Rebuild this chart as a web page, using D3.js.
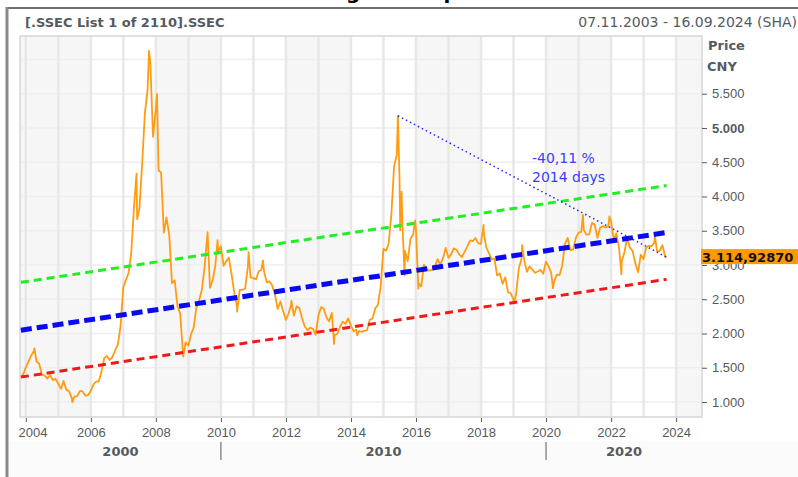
<!DOCTYPE html>
<html>
<head>
<meta charset="utf-8">
<script src="https://cdn.jsdelivr.net/npm/d3@7"></script>
<style>
  html, body { margin: 0; padding: 0; background: #fff; }
  svg { display: block; font-family: "DejaVu Sans", Verdana, sans-serif; }
</style>
</head>
<body>
<svg id="chart" width="798" height="477"></svg>
<script>
"use strict";

// SSEC monthly closes, first value is Nov 2003
var first_month = [2003, 10];
var monthly_close = [
  1397, 1497,
  1590, 1675, 1742, 1595, 1555, 1400, 1386, 1342, 1396, 1320, 1340, 1266,
  1191, 1306, 1181, 1159, 1060, 1080, 1083, 1162, 1155, 1092, 1099, 1161,
  1258, 1299, 1298, 1440, 1641, 1672, 1612, 1658, 1752, 1837, 2099, 2675,
  2786, 2881, 3183, 3841, 4109, 3820, 4471, 5218, 5552, 5954, 4871, 5261,
  4383, 4348, 3472, 3693, 3433, 2736, 2775, 2397, 2293, 1729, 1871, 1821,
  1991, 2082, 2373, 2477, 2632, 2959, 3412, 2667, 2779, 2996, 3195, 3277,
  2989, 3051, 3109, 2870, 2592, 2398, 2637, 2638, 2655, 2979, 2820, 2808,
  2791, 2905, 2928, 2911, 2743, 2762, 2701, 2567, 2359, 2468, 2333, 2199,
  2292, 2428, 2262, 2396, 2372, 2225, 2103, 2047, 2086, 2068, 1980, 2269,
  2385, 2365, 2236, 2177, 2300, 1979, 1993, 2098, 2174, 2141, 2220, 2116,
  2033, 2056, 2033, 2026, 2039, 2048, 2201, 2217, 2364, 2420, 2683, 3235,
  3210, 3310, 3748, 4442, 4612, 4277, 3664, 3206, 3053, 3383, 3445, 3539,
  2738, 2688, 3004, 2938, 2917, 2930, 2979, 3085, 3005, 3100, 3250, 3104,
  3159, 3242, 3223, 3155, 3117, 3192, 3273, 3360, 3349, 3393, 3317, 3307,
  3481, 3259, 3169, 3082, 3095, 2847, 2876, 2725, 2821, 2603, 2588, 2494,
  2585, 2941, 3091, 3078, 2899, 2979, 2933, 2886, 2905, 2929, 2871, 3050,
  2977, 2880, 2750, 2860, 2852, 2985, 3310, 3396, 3218, 3225, 3392, 3473,
  3483, 3509, 3442, 3447, 3615, 3591, 3397, 3544, 3568, 3547, 3564, 3640,
  3361, 3462, 3252, 3047, 3186, 3399, 3253, 3202, 3024, 2893, 3151, 3089,
  3255, 3280, 3273, 3323, 3205, 3202, 3291, 3120
];

// intra-month highs and lows visible in the picture
var swing_dates = [
  "2003-11-07", "2004-04-07", "2005-06-06", "2007-05-29", "2007-06-05",
  "2007-10-16", "2008-01-14", "2008-11-04", "2009-08-04", "2009-11-24",
  "2010-07-02", "2010-11-08", "2011-04-18", "2012-03-02", "2013-06-25",
  "2014-03-12", "2015-06-12", "2015-07-08", "2015-07-24", "2015-08-26",
  "2015-12-23", "2016-01-28", "2018-01-29", "2019-01-04", "2019-04-08",
  "2020-03-19", "2021-02-18", "2021-12-13", "2022-04-27", "2023-05-09",
  "2023-09-16"
];
var swing_values = [
  1370, 1783, 998, 4335, 3670,
  6124, 5497, 1664, 3478, 3361,
  2320, 3186, 3067, 2478, 1849,
  1974, 5178, 3507, 4070, 2850,
  3651, 2655, 3587, 2440, 3288,
  2660, 3731, 3708, 2863, 3418,
  3114.9287
];

// regression channel, end points
var channel_dates = ["2003-11-07", "2023-09-16"];
var channel_upper = [2747, 4160];
var channel_mid = [2048, 3474];
var channel_lower = [1364, 2790];

var year_ticks = [2004, 2006, 2008, 2010, 2012, 2014, 2016, 2018, 2020, 2022, 2024];
var decades = [2000, 2010, 2020];
var price_ticks = [1000, 1500, 2000, 2500, 3000, 3500, 4000, 4500, 5000, 5500];
var grid_prices = [1000, 1500, 2000, 2500, 3000, 3500, 4000, 4500, 5000, 5500, 6000];

var drawdown_text = ["-40,11 %", "2014 days"];
var peak_date = "2015-06-12";
var last_date = "2023-09-16";
var last_price = 3114.9287;

var chart_title = "SSEC Long-term uptrend";
var list_title = "[.SSEC List 1 of 2110].SSEC";
var range_title = "07.11.2003 - 16.09.2024 (SHA)";

var plot = {left: 20, top: 36, right: 702, bottom: 417};
var text_gray = "#555a60";

var parse_day = d3.timeParse("%Y-%m-%d");
var de_locale = d3.formatLocale({decimal: ",", thousands: ".", grouping: [3], currency: ["", ""]});
var fmt_price = de_locale.format(",.0f");
var fmt_last = de_locale.format(",.5f");

var svg = d3.select("#chart");

var x = d3.scaleTime()
    .domain([new Date(2003, 9, 28), new Date(2024, 9, 18)])
    .range([plot.left, plot.right]);
var y = d3.scaleLinear()
    .domain([781, 6343])
    .range([plot.bottom, plot.top]);

// build the price series
var price_data = monthly_close.map(function(v, i) {
    return {date: new Date(first_month[0], first_month[1] + i + 1, 0), value: v};
});
swing_dates.forEach(function(d, i) {
    price_data.push({date: parse_day(d), value: swing_values[i]});
});
price_data.sort(function(a, b) { return a.date - b.date; });

// frame
svg.append("rect").attr("width", 798).attr("height", 477).attr("fill", "#fff");
svg.append("rect").attr("x", 8).attr("y", 441).attr("width", 790).attr("height", 36).attr("fill", "#fbfbfb");
svg.append("line").attr("x1", 6).attr("x2", 798).attr("y1", 8).attr("y2", 8)
    .attr("stroke", "#707070").attr("stroke-width", 2);
svg.append("line").attr("x1", 7).attr("x2", 7).attr("y1", 7).attr("y2", 477)
    .attr("stroke", "#8a8a8a").attr("stroke-width", 3);

// cut off headline, only the descenders show
svg.append("text").attr("x", 242).attr("y", -1)
    .attr("font-size", 20).attr("font-weight", "bold").attr("fill", "#000")
    .text(chart_title);

svg.append("text").attr("x", 25).attr("y", 27)
    .attr("font-size", 13).attr("font-weight", "bold").attr("fill", text_gray)
    .text(list_title);
svg.append("text").attr("x", 797).attr("y", 27).attr("text-anchor", "end")
    .attr("font-size", 14).attr("fill", text_gray)
    .text(range_title);

// plot background: 2-year bands and grid
var plot_g = svg.append("g");
plot_g.append("rect")
    .attr("x", plot.left).attr("y", plot.top)
    .attr("width", plot.right - plot.left).attr("height", plot.bottom - plot.top)
    .attr("fill", "#fff");
d3.range(2004, 2025, 4).forEach(function(yr, i) {
    var x0 = i === 0 ? plot.left : x(new Date(yr, 0, 1));
    var x1 = Math.min(x(new Date(yr + 2, 0, 1)), plot.right);
    plot_g.append("rect")
        .attr("x", x0).attr("y", plot.top)
        .attr("width", x1 - x0).attr("height", plot.bottom - plot.top)
        .attr("fill", "#f6f6f6");
});
plot_g.selectAll(".hgrid").data(grid_prices).enter().append("line")
    .attr("x1", plot.left).attr("x2", plot.right)
    .attr("y1", function(d) { return y(d); }).attr("y2", function(d) { return y(d); })
    .attr("stroke", "#eeeeee").attr("stroke-width", 1.5);
plot_g.selectAll(".vgrid").data(d3.range(2004, 2025)).enter().append("line")
    .attr("x1", function(d) { return x(new Date(d, 0, 1)); })
    .attr("x2", function(d) { return x(new Date(d, 0, 1)); })
    .attr("y1", plot.top).attr("y2", plot.bottom)
    .attr("stroke", "#e8e8e8").attr("stroke-width", 2.5);
plot_g.append("rect")
    .attr("x", plot.left).attr("y", plot.top)
    .attr("width", plot.right - plot.left).attr("height", plot.bottom - plot.top)
    .attr("fill", "none").attr("stroke", "#d6d6d6").attr("stroke-width", 1.5);

// price line
var line = d3.line()
    .x(function(d) { return x(d.date); })
    .y(function(d) { return y(d.value); });
svg.append("path").datum(price_data)
    .attr("d", line)
    .attr("fill", "none").attr("stroke", "#ff9c12").attr("stroke-width", 1.8)
    .attr("stroke-linejoin", "round");

// regression channel
var channel_line = d3.line()
    .x(function(d) { return x(d[0]); })
    .y(function(d) { return y(d[1]); });
function channel_points(values) {
    return channel_dates.map(function(d, i) { return [parse_day(d), values[i]]; });
}
svg.append("path").datum(channel_points(channel_upper)).attr("d", channel_line)
    .attr("fill", "none").attr("stroke", "#22ee22").attr("stroke-width", 3)
    .attr("stroke-dasharray", "8,5");
svg.append("path").datum(channel_points(channel_lower)).attr("d", channel_line)
    .attr("fill", "none").attr("stroke", "#f01818").attr("stroke-width", 3)
    .attr("stroke-dasharray", "8,5");
svg.append("path").datum(channel_points(channel_mid)).attr("d", channel_line)
    .attr("fill", "none").attr("stroke", "#0a0af0").attr("stroke-width", 5)
    .attr("stroke-dasharray", "11,5");

// drawdown from the 2015 peak
var peak_value = swing_values[swing_dates.indexOf(peak_date)];
svg.append("line")
    .attr("x1", x(parse_day(peak_date))).attr("y1", y(peak_value))
    .attr("x2", x(parse_day(last_date))).attr("y2", y(last_price))
    .attr("stroke", "#2424ff").attr("stroke-width", 1.5)
    .attr("stroke-dasharray", "1.5,3");
svg.selectAll(".dd").data(drawdown_text).enter().append("text")
    .attr("x", 532).attr("y", function(d, i) { return 163 + i * 18.5; })
    .attr("font-size", 14).attr("fill", "#3c3cff")
    .text(function(d) { return d; });

// axes
var y_axis = d3.axisRight(y).tickValues(price_ticks).tickSize(5).tickPadding(5)
    .tickFormat(fmt_price);
var y_g = svg.append("g").attr("transform", "translate(" + plot.right + ",0)").call(y_axis);
y_g.select(".domain").remove();
y_g.selectAll("line").attr("stroke", text_gray);
y_g.selectAll("text").attr("font-size", 13).attr("font-family", null).attr("fill", text_gray)
    .attr("font-weight", function(d) { return d === 5000 ? "bold" : null; });

svg.append("text").attr("x", 708).attr("y", 50)
    .attr("font-size", 13).attr("font-weight", "bold").attr("fill", text_gray).text("Price");
svg.append("text").attr("x", 707).attr("y", 71)
    .attr("font-size", 13).attr("font-weight", "bold").attr("fill", text_gray).text("CNY");

var x_axis = d3.axisBottom(x)
    .tickValues(year_ticks.map(function(yr) { return new Date(yr, 0, 1); }))
    .tickSize(4).tickPadding(6)
    .tickFormat(d3.timeFormat("%Y"));
var x_g = svg.append("g").attr("transform", "translate(0," + (plot.bottom + 1) + ")").call(x_axis);
x_g.select(".domain").remove();
x_g.selectAll("line").attr("stroke", text_gray);
x_g.selectAll("text").attr("font-size", 13).attr("font-family", null).attr("fill", text_gray)
    .each(function(d) {
        // keep the first label inside the frame
        var w = this.getComputedTextLength();
        var tx = x(d);
        if (tx - w / 2 < 18) d3.select(this).attr("x", 18 + w / 2 - tx);
    });

// decade row
decades.forEach(function(dec) {
    var x0 = Math.max(x(new Date(dec, 0, 1)), plot.left);
    var x1 = Math.min(x(new Date(dec + 10, 0, 1)), plot.right);
    svg.append("text").attr("x", (x0 + x1) / 2).attr("y", 456)
        .attr("text-anchor", "middle").attr("font-size", 13).attr("font-weight", "bold")
        .attr("fill", text_gray).text(String(dec));
    if (x(new Date(dec, 0, 1)) > plot.left) {
        svg.append("line").attr("x1", x0).attr("x2", x0).attr("y1", 442).attr("y2", 460)
            .attr("stroke", text_gray).attr("stroke-width", 1);
    }
});

// last price tag, drawn over the 3.000 label as in the source
var tag_y = y(last_price);
svg.append("rect").attr("x", 701).attr("y", tag_y - 8).attr("width", 97).attr("height", 15)
    .attr("fill", "#ff9900");
svg.append("text").attr("x", 702).attr("y", tag_y + 4.5)
    .attr("font-size", 13).attr("font-weight", "bold").attr("fill", "#111")
    .text(fmt_last(last_price));
</script>
</body>
</html>
